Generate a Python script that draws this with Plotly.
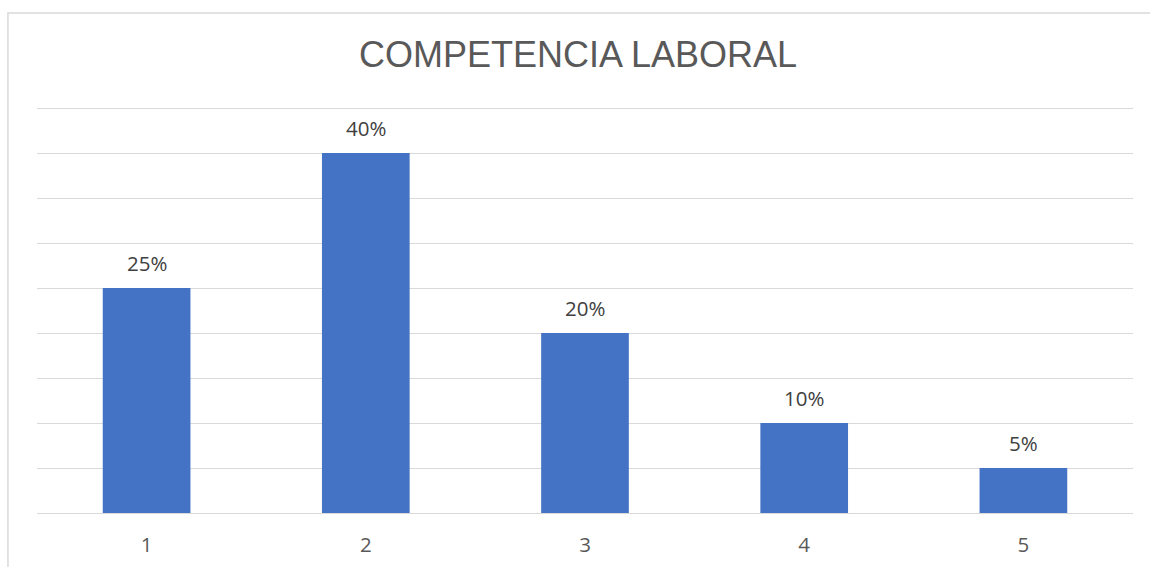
import plotly.graph_objects as go

# Chart data
categories = ["1", "2", "3", "4", "5"]
shares = [0.25, 0.40, 0.20, 0.10, 0.05]
share_labels = ["25%", "40%", "20%", "10%", "5%"]

BAR_COLOR = "#4472C4"
GRID_COLOR = "#D9D9D9"
TEXT_COLOR = "#595959"

fig = go.Figure()
fig.add_trace(go.Bar(
    x=categories,
    y=shares,
    marker=dict(color=BAR_COLOR, line=dict(width=0)),
    width=0.4,
    hoverinfo="skip",
))

# Value labels above each bar (x given as category index)
for i, (val, lab) in enumerate(zip(shares, share_labels)):
    fig.add_annotation(
        x=i, y=val, text=lab, showarrow=False,
        xref="x", yref="y",
        yanchor="bottom", yshift=9,
        font=dict(family="Open Sans, Liberation Sans, Arial", size=20.5, color="#404040"),
    )

# Outer chart border
fig.add_shape(
    type="rect", xref="paper", yref="paper",
    x0=-0.0265, x1=1.2, y0=-0.3, y1=1.2077,
    line=dict(color=GRID_COLOR, width=1.5), fillcolor="rgba(0,0,0,0)",
    layer="below",
)

fig.update_layout(
    width=1150, height=567,
    margin=dict(l=37, r=17, t=99, b=54),
    paper_bgcolor="white", plot_bgcolor="white",
    showlegend=False,
    title=dict(
        text="COMPETENCIA LABORAL",
        xref="container", yref="container",
        x=578 / 1150, y=1 - 54 / 567,
        xanchor="center", yanchor="middle",
        font=dict(family="Liberation Sans, Arial", size=36, color=TEXT_COLOR),
    ),
    xaxis=dict(
        type="category",
        categoryorder="array", categoryarray=categories,
        range=[-0.5, len(categories) - 0.5],
        showgrid=False, showline=False, zeroline=False,
        ticks="", ticklen=0, automargin=False,
        tickfont=dict(family="Open Sans, Liberation Sans, Arial", size=20.5, color=TEXT_COLOR),
        ticklabelstandoff=17,
    ),
    yaxis=dict(
        range=[0, 0.46],
        dtick=0.05, tick0=0,
        showticklabels=False, automargin=False,
        showgrid=True, gridcolor=GRID_COLOR, gridwidth=1.3,
        zeroline=True, zerolinecolor=GRID_COLOR, zerolinewidth=1.3,
        showline=False, ticks="",
    ),
)

fig.write_html("out.html")
